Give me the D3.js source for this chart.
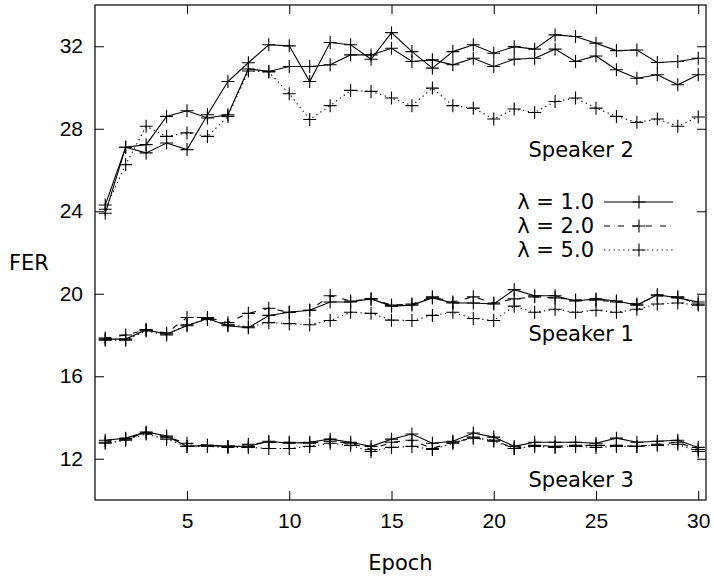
<!DOCTYPE html>
<html>
<head>
<meta charset="utf-8">
<script src="https://cdn.jsdelivr.net/npm/d3@7"></script>
<style>
  body { margin: 0; background: #fff; }
  svg { font-family: "DejaVu Sans", sans-serif; }
  .line { fill: none; stroke: #000; stroke-width: 1.1; }
  .pt { stroke: #000; stroke-width: 1.1; }
  .axis text { font-size: 21px; fill: #000; }
  .axis line { stroke: #000; }
</style>
</head>
<body>
<div id="chart"></div>
<script>
// epochs 1..30
var epochs = d3.range(1, 31);

var lambdas = ["λ = 1.0", "λ = 2.0", "λ = 5.0"];

// Speaker 2
var spk2_l1 = [24.3, 27.1, 26.83, 27.31, 26.99, 28.68, 30.29, 31.2, 32.07, 32.02, 30.29, 32.18, 32.07, 31.37, 32.66,
    31.74, 30.94, 31.74, 32.07, 31.66, 31.98, 31.86, 32.55, 32.47, 32.15, 31.79, 31.82, 31.21, 31.26, 31.42];
var spk2_l2 = [23.9, 27.1, 27.23, 28.6, 28.87, 28.52, 28.68, 30.9, 30.78, 31.02, 31.02, 31.1, 31.58, 31.58, 31.9,
    31.26, 31.34, 31.1, 31.42, 31.02, 31.37, 31.42, 31.86, 31.26, 31.53, 30.86, 30.45, 30.62, 30.13, 30.62];
var spk2_l5 = [24.1, 26.26, 28.12, 27.63, 27.8, 27.63, 28.6, 30.8, 30.75, 29.7, 28.45, 29.12, 29.86, 29.81, 29.49,
    29.12, 29.97, 29.12, 29.0, 28.47, 28.96, 28.79, 29.32, 29.49, 29.0, 28.6, 28.31, 28.47, 28.12, 28.57];

// Speaker 1
var spk1_l1 = [17.8, 17.8, 18.25, 18.05, 18.45, 18.8, 18.45, 18.35, 18.95, 19.1, 19.2, 19.6, 19.6, 19.75, 19.4,
    19.45, 19.8, 19.55, 19.55, 19.5, 20.2, 19.9, 19.9, 19.65, 19.75, 19.65, 19.45, 19.95, 19.8, 19.6];
var spk1_l2 = [17.85, 18.0, 18.25, 18.1, 18.85, 18.85, 18.6, 19.05, 19.3, 19.1, 19.2, 19.9, 19.65, 19.75, 19.45,
    19.5, 19.85, 19.6, 19.85, 19.55, 19.75, 19.85, 19.8, 19.7, 19.7, 19.6, 19.5, 19.9, 19.85, 19.5];
var spk1_l5 = [17.75, 17.75, 18.2, 18.0, 18.5, 18.75, 18.5, 18.4, 18.6, 18.55, 18.5, 18.7, 19.1, 19.05, 18.72,
    18.7, 18.95, 19.1, 18.8, 18.7, 19.4, 19.1, 19.25, 19.1, 19.2, 19.1, 19.25, 19.5, 19.55, 19.45];

// Speaker 3
var spk3_l1 = [12.9, 13.0, 13.3, 13.1, 12.6, 12.65, 12.6, 12.6, 12.85, 12.75, 12.8, 12.95, 12.8, 12.6, 12.95,
    13.2, 12.75, 12.85, 13.25, 13.05, 12.6, 12.8, 12.8, 12.8, 12.75, 13.0, 12.8, 12.85, 12.9, 12.55];
var spk3_l2 = [12.8, 12.95, 13.25, 13.05, 12.75, 12.65, 12.6, 12.7, 12.8, 12.8, 12.75, 12.85, 12.75, 12.45, 12.8,
    12.9, 12.5, 12.8, 13.0, 12.9, 12.5, 12.65, 12.6, 12.65, 12.65, 12.65, 12.6, 12.7, 12.8, 12.45];
var spk3_l5 = [12.75, 12.9, 13.2, 12.95, 12.6, 12.6, 12.55, 12.55, 12.5, 12.5, 12.6, 12.75, 12.65, 12.35, 12.55,
    12.6, 12.45, 12.75, 13.05, 12.85, 12.5, 12.6, 12.55, 12.6, 12.55, 12.6, 12.6, 12.65, 12.7, 12.35];

var xTicks = [5, 10, 15, 20, 25, 30];
var yTicks = [12, 16, 20, 24, 28, 32];

// speaker labels: name, epoch, FER (where text sits)
var speakerLabels = [
    { name: "Speaker 2", x: 21.7, y: 26.65 },
    { name: "Speaker 1", x: 21.7, y: 17.7 },
    { name: "Speaker 3", x: 21.7, y: 10.64 }
];

var W = 714, H = 578;
var margin = { left: 95, right: 706, top: 5, bottom: 500 };

var dashes = ["none", "6,8", "1.3,3.5"];

var xScale = d3.scaleLinear().domain([0.5, 30.38]).range([margin.left, margin.right]);
var yScale = d3.scaleLinear().domain([10, 34]).range([margin.bottom, margin.top]);

var svg = d3.select("#chart").append("svg")
    .attr("width", W)
    .attr("height", H);

// axes with inward ticks, mirrored
svg.append("g")
    .attr("class", "axis")
    .attr("transform", "translate(" + margin.left + ",0)")
    .call(d3.axisLeft(yScale).tickValues(yTicks).tickSize(-9).tickPadding(12))
    .select(".domain").remove();
svg.append("g")
    .attr("class", "axis")
    .attr("transform", "translate(" + margin.right + ",0)")
    .call(d3.axisRight(yScale).tickValues(yTicks).tickSize(-9).tickFormat(""))
    .select(".domain").remove();
svg.append("g")
    .attr("class", "axis")
    .attr("transform", "translate(0," + margin.bottom + ")")
    .call(d3.axisBottom(xScale).tickValues(xTicks).tickSize(-9).tickPadding(13))
    .select(".domain").remove();
svg.append("g")
    .attr("class", "axis")
    .attr("transform", "translate(0," + margin.top + ")")
    .call(d3.axisTop(xScale).tickValues(xTicks).tickSize(-9).tickFormat(""))
    .select(".domain").remove();

svg.append("rect")
    .attr("x", margin.left).attr("y", margin.top)
    .attr("width", margin.right - margin.left).attr("height", margin.bottom - margin.top)
    .attr("fill", "none").attr("stroke", "#000").attr("stroke-width", 1.2);

svg.append("text")
    .attr("x", 29).attr("y", 263)
    .attr("text-anchor", "middle").attr("dominant-baseline", "central")
    .style("font-size", "21px")
    .text("FER");

svg.append("text")
    .attr("x", (margin.left + margin.right) / 2).attr("y", 563)
    .attr("text-anchor", "middle").attr("dominant-baseline", "central")
    .style("font-size", "21px")
    .text("Epoch");

var line = d3.line()
    .x(function (d, i) { return xScale(epochs[i]); })
    .y(function (d) { return yScale(d); });

function plus(g, x, y) {
    var s = 6.5;
    g.append("path")
        .attr("class", "pt")
        .attr("d", "M" + (x - s) + "," + y + "H" + (x + s) + "M" + x + "," + (y - s) + "V" + (y + s));
}

function draw_series(values, dash) {
    svg.append("path")
        .datum(values)
        .attr("class", "line")
        .attr("stroke-dasharray", dash)
        .attr("d", line);
    var g = svg.append("g");
    values.forEach(function (v, i) { plus(g, xScale(epochs[i]), yScale(v)); });
}

// speaker 2 curves for λ=1 and λ=2 both appear solid in the figure
draw_series(spk2_l1, dashes[0]);
draw_series(spk2_l2, dashes[0]);
draw_series(spk2_l5, dashes[2]);
draw_series(spk1_l1, dashes[0]);
draw_series(spk1_l2, dashes[1]);
draw_series(spk1_l5, dashes[2]);
draw_series(spk3_l1, dashes[0]);
draw_series(spk3_l2, dashes[1]);
draw_series(spk3_l5, dashes[2]);

svg.selectAll(".spk")
    .data(speakerLabels)
    .enter().append("text")
    .attr("class", "spk")
    .attr("x", function (d) { return xScale(d.x); })
    .attr("y", function (d) { return yScale(d.y); })
    .style("font-size", "21px")
    .text(function (d) { return d.name; });

// legend
var legY = [202, 226, 250];
lambdas.forEach(function (name, i) {
    svg.append("text")
        .attr("x", 594).attr("y", legY[i])
        .attr("text-anchor", "end").attr("dominant-baseline", "central")
        .style("font-size", "21px")
        .text(name);
    svg.append("line")
        .attr("class", "line")
        .attr("x1", 604).attr("x2", 673)
        .attr("y1", legY[i]).attr("y2", legY[i])
        .attr("stroke-dasharray", dashes[i]);
    plus(svg, 639, legY[i]);
});
</script>
</body>
</html>
